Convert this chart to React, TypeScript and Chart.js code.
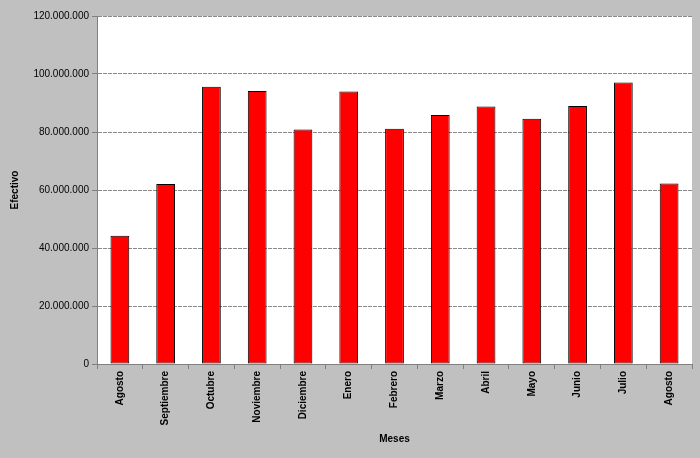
import React, { useEffect, useRef } from "react";
import { Chart, registerables } from "chart.js";

Chart.register(...registerables);

const categories = [
  "Agosto", "Septiembre", "Octubre", "Noviembre", "Diciembre", "Enero",
  "Febrero", "Marzo", "Abril", "Mayo", "Junio", "Julio", "Agosto",
];
const efectivo = [
  44200000, 62100000, 95600000, 94100000, 80900000, 94000000,
  81100000, 85900000, 88800000, 84600000, 89000000, 97100000, 62200000,
];
const yTicks = [0, 20000000, 40000000, 60000000, 80000000, 100000000, 120000000];
const yTitle = "Efectivo";
const xTitle = "Meses";

function fmt(v: number): string {
  const s = Math.round(v).toString();
  return s.replace(/\B(?=(\d{3})+(?!\d))/g, ".");
}

const whiteArea = {
  id: "whiteArea",
  beforeDraw(chart: any) {
    const { ctx, chartArea } = chart;
    ctx.save();
    ctx.fillStyle = "#ffffff";
    ctx.fillRect(chartArea.left, chartArea.top, chartArea.right - chartArea.left, chartArea.bottom - chartArea.top);
    ctx.restore();
  },
};

export default function App() {
  const ref = useRef<HTMLCanvasElement>(null);
  useEffect(() => {
    if (!ref.current) return;
    const font = "'Liberation Sans', Arial, sans-serif";
    const chart = new Chart(ref.current, {
      type: "bar",
      data: {
        labels: categories,
        datasets: [
          {
            label: yTitle,
            data: efectivo,
            backgroundColor: "#ff0000",
            borderColor: "#000000",
            borderWidth: 1,
            borderSkipped: false,
            barPercentage: 0.41,
            categoryPercentage: 1,
          },
        ],
      },
      options: {
        responsive: false,
        animation: false,
        layout: { padding: { top: 16, right: 8, left: 0, bottom: 0 } },
        plugins: { legend: { display: false }, tooltip: { enabled: false } },
        scales: {
          x: {
            offset: true,
            grid: {
              display: true,
              drawOnChartArea: false,
              drawTicks: true,
              tickLength: 5,
              offset: true,
              color: "#808080",
            },
            border: { display: true, color: "#808080", width: 1 },
            ticks: {
              color: "#000",
              font: { family: font, size: 10, weight: "bold" },
              maxRotation: 90,
              minRotation: 90,
              padding: 2,
              autoSkip: false,
            },
            title: {
              display: true,
              text: xTitle,
              color: "#000",
              font: { family: font, size: 10, weight: "bold" },
              padding: { top: 4, bottom: 13 },
            },
            afterFit: (scale: any) => {
              scale.height = 94;
            },
          },
          y: {
            min: 0,
            max: 120000000,
            afterBuildTicks: (scale: any) => {
              scale.ticks = yTicks.map((v) => ({ value: v }));
            },
            grid: {
              color: "#8a8a8a",
              drawTicks: true,
              tickLength: 5,
              tickColor: "#808080",
            },
            border: { display: true, color: "#808080", width: 1, dash: [4, 1] },
            ticks: {
              color: "#000",
              font: { family: font, size: 10 },
              padding: 3,
              callback: (v: any) => fmt(Number(v)),
            },
            title: {
              display: true,
              text: yTitle,
              color: "#000",
              font: { family: font, size: 10, weight: "bold" },
              padding: { top: 9, bottom: 0 },
            },
            afterFit: (scale: any) => {
              scale.width = 97;
            },
          },
        },
      },
      plugins: [whiteArea],
    } as any);
    return () => chart.destroy();
  }, []);
  return (
    <div style={{ position: "fixed", left: 0, top: 0, width: 700, height: 458, background: "#c0c0c0" }}>
      <canvas ref={ref} width={700} height={458} style={{ display: "block" }} />
    </div>
  );
}
